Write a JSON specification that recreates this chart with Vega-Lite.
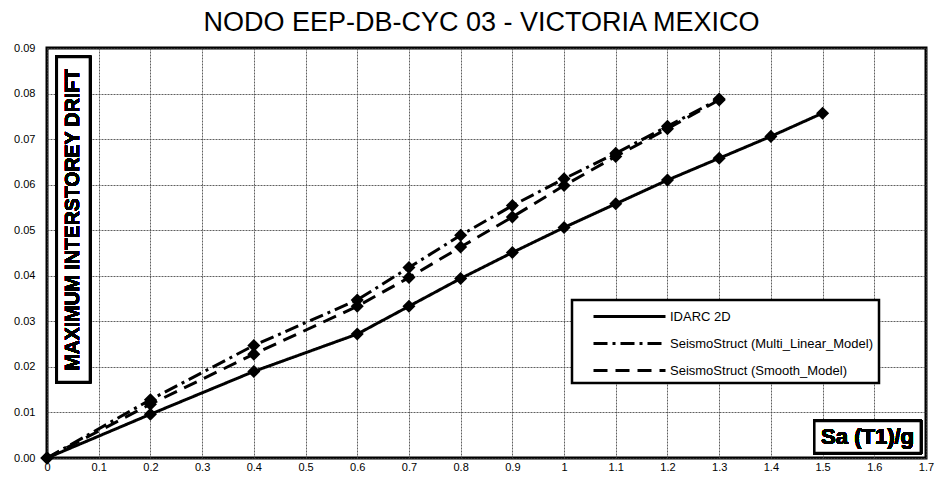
{
  "$schema": "https://vega.github.io/schema/vega-lite/v6.json",
  "width": 879,
  "height": 410,
  "autosize": {"type": "none"},
  "padding": {"left": 47, "top": 48, "right": 10, "bottom": 21},
  "background": "white",
  "config": {
    "font": "Liberation Sans",
    "view": {"stroke": "black", "strokeWidth": 3},
    "legend": {"strokeWidth": 2.5, "strokeColor": "black", "fillColor": "white"},
    "axis": {"labelFont": "Liberation Sans", "labelFontSize": 11, "labelColor": "black", "domain": false, "ticks": false, "gridColor": "#444", "gridDash": [2, 1], "gridWidth": 1, "gridOpacity": 0.85}
  },
  "title": {"text": "NODO EEP-DB-CYC 03 - VICTORIA MEXICO", "fontSize": 27, "fontWeight": "normal", "font": "Liberation Sans", "color": "black", "offset": 5, "anchor": "middle", "dx": -5},
  "data": {"values": [
    {"series": "IDARC 2D", "sa": 0, "drift": 0},
    {"series": "IDARC 2D", "sa": 0.2, "drift": 0.0096},
    {"series": "IDARC 2D", "sa": 0.4, "drift": 0.019},
    {"series": "IDARC 2D", "sa": 0.6, "drift": 0.0272},
    {"series": "IDARC 2D", "sa": 0.7, "drift": 0.0333},
    {"series": "IDARC 2D", "sa": 0.8, "drift": 0.0394},
    {"series": "IDARC 2D", "sa": 0.9, "drift": 0.0451},
    {"series": "IDARC 2D", "sa": 1.0, "drift": 0.0506},
    {"series": "IDARC 2D", "sa": 1.1, "drift": 0.0558},
    {"series": "IDARC 2D", "sa": 1.2, "drift": 0.061},
    {"series": "IDARC 2D", "sa": 1.3, "drift": 0.0658},
    {"series": "IDARC 2D", "sa": 1.4, "drift": 0.0706},
    {"series": "IDARC 2D", "sa": 1.5, "drift": 0.0757},
    {"series": "SeismoStruct (Multi_Linear_Model)", "sa": 0, "drift": 0},
    {"series": "SeismoStruct (Multi_Linear_Model)", "sa": 0.2, "drift": 0.0128},
    {"series": "SeismoStruct (Multi_Linear_Model)", "sa": 0.4, "drift": 0.0247},
    {"series": "SeismoStruct (Multi_Linear_Model)", "sa": 0.6, "drift": 0.0347},
    {"series": "SeismoStruct (Multi_Linear_Model)", "sa": 0.7, "drift": 0.0418},
    {"series": "SeismoStruct (Multi_Linear_Model)", "sa": 0.8, "drift": 0.0489},
    {"series": "SeismoStruct (Multi_Linear_Model)", "sa": 0.9, "drift": 0.0554},
    {"series": "SeismoStruct (Multi_Linear_Model)", "sa": 1.0, "drift": 0.0613},
    {"series": "SeismoStruct (Multi_Linear_Model)", "sa": 1.1, "drift": 0.0669},
    {"series": "SeismoStruct (Multi_Linear_Model)", "sa": 1.2, "drift": 0.0728},
    {"series": "SeismoStruct (Multi_Linear_Model)", "sa": 1.3, "drift": 0.0788},
    {"series": "SeismoStruct (Smooth_Model)", "sa": 0, "drift": 0},
    {"series": "SeismoStruct (Smooth_Model)", "sa": 0.2, "drift": 0.0118},
    {"series": "SeismoStruct (Smooth_Model)", "sa": 0.4, "drift": 0.0228},
    {"series": "SeismoStruct (Smooth_Model)", "sa": 0.6, "drift": 0.0333},
    {"series": "SeismoStruct (Smooth_Model)", "sa": 0.7, "drift": 0.0396},
    {"series": "SeismoStruct (Smooth_Model)", "sa": 0.8, "drift": 0.0463},
    {"series": "SeismoStruct (Smooth_Model)", "sa": 0.9, "drift": 0.0529},
    {"series": "SeismoStruct (Smooth_Model)", "sa": 1.0, "drift": 0.0598},
    {"series": "SeismoStruct (Smooth_Model)", "sa": 1.1, "drift": 0.0662},
    {"series": "SeismoStruct (Smooth_Model)", "sa": 1.2, "drift": 0.0723},
    {"series": "SeismoStruct (Smooth_Model)", "sa": 1.3, "drift": 0.0786}
  ]},
  "encoding": {
    "x": {"field": "sa", "type": "quantitative", "scale": {"domain": [0, 1.7], "nice": false, "zero": false},
      "axis": {"title": null, "values": [0, 0.1, 0.2, 0.3, 0.4, 0.5, 0.6, 0.7, 0.8, 0.9, 1, 1.1, 1.2, 1.3, 1.4, 1.5, 1.6, 1.7], "format": "~g", "labelPadding": 3, "labelFlush": false}},
    "y": {"field": "drift", "type": "quantitative", "scale": {"domain": [0, 0.09], "nice": false},
      "axis": {"title": null, "values": [0, 0.01, 0.02, 0.03, 0.04, 0.05, 0.06, 0.07, 0.08, 0.09], "format": ".2f", "labelPadding": 12, "labelFlush": false}}
  },
  "layer": [
    {
      "mark": {"type": "line", "color": "black", "strokeWidth": 3},
      "encoding": {
        "detail": {"field": "series"},
        "strokeDash": {"field": "series", "type": "nominal",
          "scale": {"domain": ["IDARC 2D", "SeismoStruct (Multi_Linear_Model)", "SeismoStruct (Smooth_Model)"], "range": [[1, 0], [14, 5, 3, 5], [14, 8]]},
          "legend": {"title": null, "orient": "none", "legendX": 525, "legendY": 252, "symbolType": "M-3.6,0H3.6", "symbolSize": 400, "symbolStrokeWidth": 3, "symbolStrokeColor": "black", "labelFontSize": 13, "labelFont": "Liberation Sans", "labelColor": "black", "labelExpr": "datum.label + '\u00a0\u00a0\u00a0\u00a0\u00a0\u00a0'", "rowPadding": 8, "padding": 5, "fillColor": "white", "strokeColor": "black", "labelOffset": 29, "symbolOffset": 41, "labelLimit": 320}
        }
      }
    },
    {
      "mark": {"type": "point", "shape": "diamond", "filled": true, "color": "black", "size": 170, "opacity": 1}
    },
    {
      "mark": {"type": "rect", "fill": "white", "stroke": "black", "strokeWidth": 2.5},
      "encoding": {
        "x": {"datum": 0.019, "type": "quantitative"},
        "x2": {"datum": 0.083},
        "y": {"datum": 0.088, "type": "quantitative"},
        "y2": {"datum": 0.0167}
      }
    },
    {
      "mark": {"type": "text", "text": "MAXIMUM INTERSTOREY DRIFT", "angle": 270, "fontSize": 19.5, "fontWeight": "bold", "font": "Liberation Sans", "color": "black", "align": "center", "baseline": "middle"},
      "encoding": {
        "x": {"datum": 0.051, "type": "quantitative"},
        "y": {"datum": 0.0523, "type": "quantitative"}
      }
    },
    {
      "mark": {"type": "rect", "fill": "white", "stroke": "black", "strokeWidth": 2.5},
      "encoding": {
        "x": {"datum": 1.484, "type": "quantitative"},
        "x2": {"datum": 1.69},
        "y": {"datum": 0.0081, "type": "quantitative"},
        "y2": {"datum": 0.0011}
      }
    },
    {
      "mark": {"type": "text", "text": "Sa (T1)/g", "fontSize": 22, "fontWeight": "bold", "font": "Liberation Sans", "color": "black", "align": "center", "baseline": "middle"},
      "encoding": {
        "x": {"datum": 1.587, "type": "quantitative"},
        "y": {"datum": 0.0046, "type": "quantitative"}
      }
    }
  ]
}
